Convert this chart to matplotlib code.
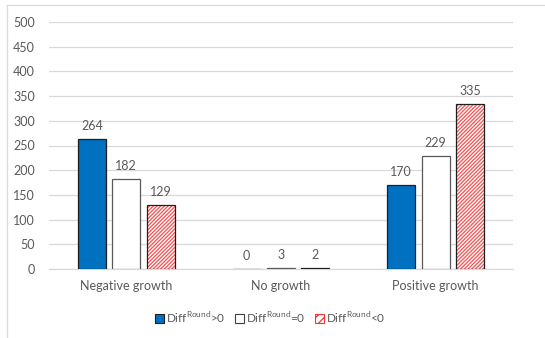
import matplotlib
matplotlib.use("Agg")
import matplotlib.pyplot as plt
from matplotlib.lines import Line2D
from matplotlib.patches import Patch
import numpy as np

plt.rcParams['font.family'] = ['Lato', 'DejaVu Sans']
plt.rcParams['mathtext.fontset'] = 'custom'
plt.rcParams['mathtext.rm'] = 'Lato'
plt.rcParams['hatch.linewidth'] = 0.9

categories = ["Negative growth", "No growth", "Positive growth"]
series_names = [r"Diff$^{\mathrm{Round}}$>0", r"Diff$^{\mathrm{Round}}$=0", r"Diff$^{\mathrm{Round}}$<0"]
diff_pos = [264, 0, 170]
diff_zero = [182, 3, 229]
diff_neg = [129, 2, 335]
y_ticks = [0, 50, 100, 150, 200, 250, 300, 350, 400, 450, 500]

W, H = 545, 338
fig = plt.figure(figsize=(W / 100, H / 100), dpi=100)
ax = fig.add_axes([49 / W, 1 - 269 / H, (513 - 49) / W, (269 - 22) / H])

text_color = "#595959"
x = np.arange(len(categories))
offset = 0.222
width = 0.179

styles = [
    dict(color="#0070C0", edgecolor="#1f1f1f", linewidth=0.9),
    dict(color="white", edgecolor="#595959", linewidth=0.9),
    dict(color="white", edgecolor="#1f1f1f", linewidth=0.9, hatch="/////////"),
]
all_series = [diff_pos, diff_zero, diff_neg]
for i, (vals, st) in enumerate(zip(all_series, styles)):
    pos = x + (i - 1) * offset
    if "hatch" in st:
        ax.bar(pos, vals, width, color="white", edgecolor="#ff4d4d",
               linewidth=0, hatch=st["hatch"], zorder=3)
        ax.bar(pos, vals, width, color="none", edgecolor=st["edgecolor"],
               linewidth=st["linewidth"], zorder=4)
    else:
        ax.bar(pos, vals, width, zorder=3, **st)
    for p, v in zip(pos, vals):
        ax.annotate(f"{v}", (p, v), xytext=(0, 5), textcoords="offset points",
                    ha="center", va="bottom", fontsize=9, color=text_color)

ax.set_xlim(-0.5, 2.5)
ax.set_ylim(0, 500)
ax.set_yticks(y_ticks)
ax.set_xticks(x)
ax.set_xticklabels(categories)
ax.yaxis.grid(True, color="#d9d9d9", linewidth=0.9, zorder=0)
ax.set_axisbelow(True)
for s in ["top", "right", "left"]:
    ax.spines[s].set_visible(False)
ax.spines["bottom"].set_color("#d9d9d9")
ax.spines["bottom"].set_linewidth(0.9)
ax.tick_params(axis="both", length=0, colors=text_color, labelsize=9)
ax.tick_params(axis="x", pad=8)
ax.tick_params(axis="y", pad=10)

# legend swatches
leg_handles = [
    Patch(facecolor="#0070C0", edgecolor="#1f1f1f", linewidth=0.8),
    Patch(facecolor="white", edgecolor="#404040", linewidth=0.8),
    Patch(facecolor="white", edgecolor="#ff3030", hatch="////", linewidth=0.8),
]
leg = fig.legend(leg_handles, series_names, loc="center", bbox_to_anchor=(270 / W, 1 - 317 / H),
                 ncol=3, frameon=False, fontsize=8.5, handlelength=0.75, handleheight=0.75,
                 handletextpad=0.2, columnspacing=0.8, labelcolor=text_color)
for h in leg.legend_handles[2:]:
    h.set_edgecolor("#ff3030")

# chart area border (left and top edges)
fig.add_artist(Line2D([7 / W, 7 / W], [0, 1 - 5 / H], transform=fig.transFigure,
                      color="#d9d9d9", linewidth=0.9))
fig.add_artist(Line2D([7 / W, 1], [1 - 5 / H, 1 - 5 / H], transform=fig.transFigure,
                      color="#d9d9d9", linewidth=0.9))

fig.savefig("out.png", dpi=100)
